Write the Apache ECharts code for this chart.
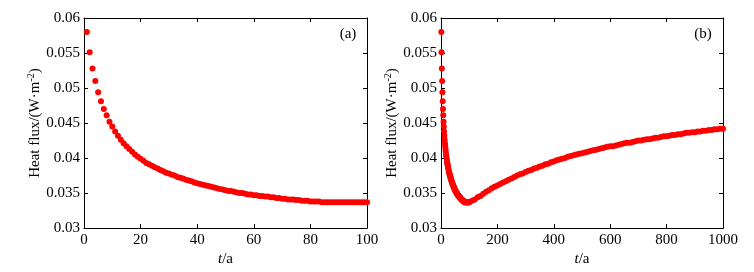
<!DOCTYPE html>
<html>
<head>
<meta charset="utf-8">
<script src="https://cdn.jsdelivr.net/npm/echarts@6/dist/echarts.min.js"></script>
<style>
  html, body { margin: 0; padding: 0; background: #fff; }
  #chart { width: 754px; height: 272px; }
</style>
</head>
<body>
<div id="chart"></div>
<script>
// panel (a): t = 1..100 a
const yearsA = [
  1, 2, 3, 4, 5, 6, 7, 8, 9, 10, 11, 12, 13, 14, 15, 16, 17, 18, 19, 20,
  21, 22, 23, 24, 25, 26, 27, 28, 29, 30, 31, 32, 33, 34, 35, 36, 37, 38, 39, 40,
  41, 42, 43, 44, 45, 46, 47, 48, 49, 50, 51, 52, 53, 54, 55, 56, 57, 58, 59, 60,
  61, 62, 63, 64, 65, 66, 67, 68, 69, 70, 71, 72, 73, 74, 75, 76, 77, 78, 79, 80,
  81, 82, 83, 84, 85, 86, 87, 88, 89, 90, 91, 92, 93, 94, 95, 96, 97, 98, 99, 100
];
const fluxA = [
  0.0580, 0.0551, 0.0528, 0.0510, 0.0494, 0.0481, 0.0470, 0.0461, 0.0452, 0.0445,
  0.0438, 0.0432, 0.0426, 0.0421, 0.0417, 0.0413, 0.0409, 0.0405, 0.0402, 0.0399,
  0.0396, 0.0393, 0.0391, 0.0389, 0.0387, 0.0385, 0.0383, 0.0381, 0.0379, 0.0378,
  0.0376, 0.0375, 0.0373, 0.0372, 0.0371, 0.0369, 0.0368, 0.0367, 0.0365, 0.0364,
  0.0363, 0.0362, 0.0361, 0.0360, 0.0359, 0.0358, 0.0357, 0.0356, 0.0355, 0.0354,
  0.0353, 0.0353, 0.0352, 0.0351, 0.0350, 0.0350, 0.0349, 0.0348, 0.0348, 0.0347,
  0.0347, 0.0346, 0.0346, 0.0345, 0.0345, 0.0344, 0.0344, 0.0343, 0.0343, 0.0342,
  0.0342, 0.0341, 0.0341, 0.0341, 0.0340, 0.0340, 0.0339, 0.0339, 0.0339, 0.0338,
  0.0338, 0.0338, 0.0338, 0.0337, 0.0337, 0.0337, 0.0337, 0.0337, 0.0337, 0.0337,
  0.0337, 0.0337, 0.0337, 0.0337, 0.0337, 0.0337, 0.0337, 0.0337, 0.0337, 0.0337
];

// panel (b): same start, then t = 110..1000 a
const yearsB = [
  110, 120, 130, 140, 150, 160, 170, 180, 190, 200, 210, 220, 230, 240, 250, 260, 270, 280, 290, 300,
  310, 320, 330, 340, 350, 360, 370, 380, 390, 400, 410, 420, 430, 440, 450, 460, 470, 480, 490, 500,
  510, 520, 530, 540, 550, 560, 570, 580, 590, 600, 610, 620, 630, 640, 650, 660, 670, 680, 690, 700,
  710, 720, 730, 740, 750, 760, 770, 780, 790, 800, 810, 820, 830, 840, 850, 860, 870, 880, 890, 900,
  910, 920, 930, 940, 950, 960, 970, 980, 990, 1000
];
const fluxB = [
  0.0339, 0.0341, 0.0344, 0.0346, 0.0349, 0.0352, 0.0354, 0.0357, 0.0359, 0.0361,
  0.0363, 0.0365, 0.0367, 0.0369, 0.0371, 0.0373, 0.0375, 0.0377, 0.0378, 0.0380,
  0.0382, 0.0383, 0.0385, 0.0386, 0.0388, 0.0389, 0.0391, 0.0392, 0.0394, 0.0395,
  0.0397, 0.0398, 0.0399, 0.0400, 0.0402, 0.0403, 0.0404, 0.0405, 0.0406, 0.0407,
  0.0408, 0.0409, 0.0410, 0.0411, 0.0412, 0.0413, 0.0414, 0.0415, 0.0416, 0.0417,
  0.0417, 0.0418, 0.0419, 0.0420, 0.0421, 0.0422, 0.0422, 0.0423, 0.0424, 0.0425,
  0.0425, 0.0426, 0.0427, 0.0427, 0.0428, 0.0429, 0.0429, 0.0430, 0.0431, 0.0431,
  0.0432, 0.0433, 0.0433, 0.0434, 0.0434, 0.0435, 0.0436, 0.0436, 0.0437, 0.0437,
  0.0438, 0.0438, 0.0439, 0.0439, 0.0440, 0.0440, 0.0441, 0.0441, 0.0442, 0.0442
];

const yTicks = [0.03, 0.035, 0.04, 0.045, 0.05, 0.055, 0.06];
const panelLabels = ['(a)', '(b)'];

const font = 'Liberation Serif';
const dataA = yearsA.map((t, i) => [t, fluxA[i]]);
const dataB = dataA.concat(yearsB.map((t, i) => [t, fluxB[i]]));

const chart = echarts.init(document.getElementById('chart'));

function xAxes(gridIndex, max, interval) {
  const base = {
    gridIndex, type: 'value', min: 0, max, interval,
    splitLine: { show: false },
    axisLine: { onZero: false, lineStyle: { color: '#000', width: 1 } },
    axisTick: { inside: true, length: 4, lineStyle: { color: '#000' } }
  };
  return [
    Object.assign({}, base, {
      position: 'bottom',
      axisLabel: { color: '#000', fontFamily: font, fontSize: 15, margin: 4, formatter: v => String(v) },
      name: '{i|t}/a',
      nameLocation: 'middle',
      nameGap: 22,
      nameTextStyle: {
        color: '#000', fontFamily: font, fontSize: 15,
        rich: { i: { fontStyle: 'italic', fontFamily: font, fontSize: 15, color: '#000' } }
      }
    }),
    Object.assign({}, base, { position: 'top', axisLabel: { show: false } })
  ];
}

function yAxes(gridIndex) {
  const base = {
    gridIndex, type: 'value', min: 0.03, max: 0.06, interval: 0.005,
    splitLine: { show: false },
    axisLine: { onZero: false, lineStyle: { color: '#000', width: 1 } },
    axisTick: { inside: true, length: 4, lineStyle: { color: '#000' } }
  };
  return [
    Object.assign({}, base, {
      position: 'left',
      axisLabel: {
        color: '#000', fontFamily: font, fontSize: 15, margin: 4,
        formatter: v => String(yTicks.find(t => Math.abs(t - v) < 1e-9) ?? +v.toFixed(3))
      },
      name: 'Heat flux/(W·m{s|-2})',
      nameLocation: 'middle',
      nameGap: 40,
      nameTextStyle: {
        color: '#000', fontFamily: font, fontSize: 15,
        rich: { s: { fontSize: 10, fontFamily: font, color: '#000', verticalAlign: 'top', padding: [0, 0, 6, 0] } }
      }
    }),
    Object.assign({}, base, { position: 'right', axisLabel: { show: false } })
  ];
}

const symbol = {
  type: 'scatter',
  symbol: 'circle',
  symbolSize: 6,
  clip: false,
  itemStyle: { color: '#ff0000', opacity: 1 },
  silent: true
};

chart.setOption({
  animation: false,
  backgroundColor: '#fff',
  grid: [
    { left: 84, top: 18, width: 283, height: 221 },
    { left: 441, top: 18, width: 282, height: 221 }
  ],
  xAxis: [...xAxes(0, 100, 20), ...xAxes(1, 1000, 200)],
  yAxis: [...yAxes(0), ...yAxes(1)],
  graphic: [
    { type: 'text', x: 348, y: 34, style: { text: panelLabels[0], font: '15px "Liberation Serif"', fill: '#000', align: 'center', verticalAlign: 'middle' } },
    { type: 'text', x: 703, y: 34, style: { text: panelLabels[1], font: '15px "Liberation Serif"', fill: '#000', align: 'center', verticalAlign: 'middle' } }
  ],
  series: [
    Object.assign({}, symbol, { xAxisIndex: 0, yAxisIndex: 0, data: dataA }),
    Object.assign({}, symbol, { xAxisIndex: 2, yAxisIndex: 2, data: dataB })
  ]
});
</script>
</body>
</html>
